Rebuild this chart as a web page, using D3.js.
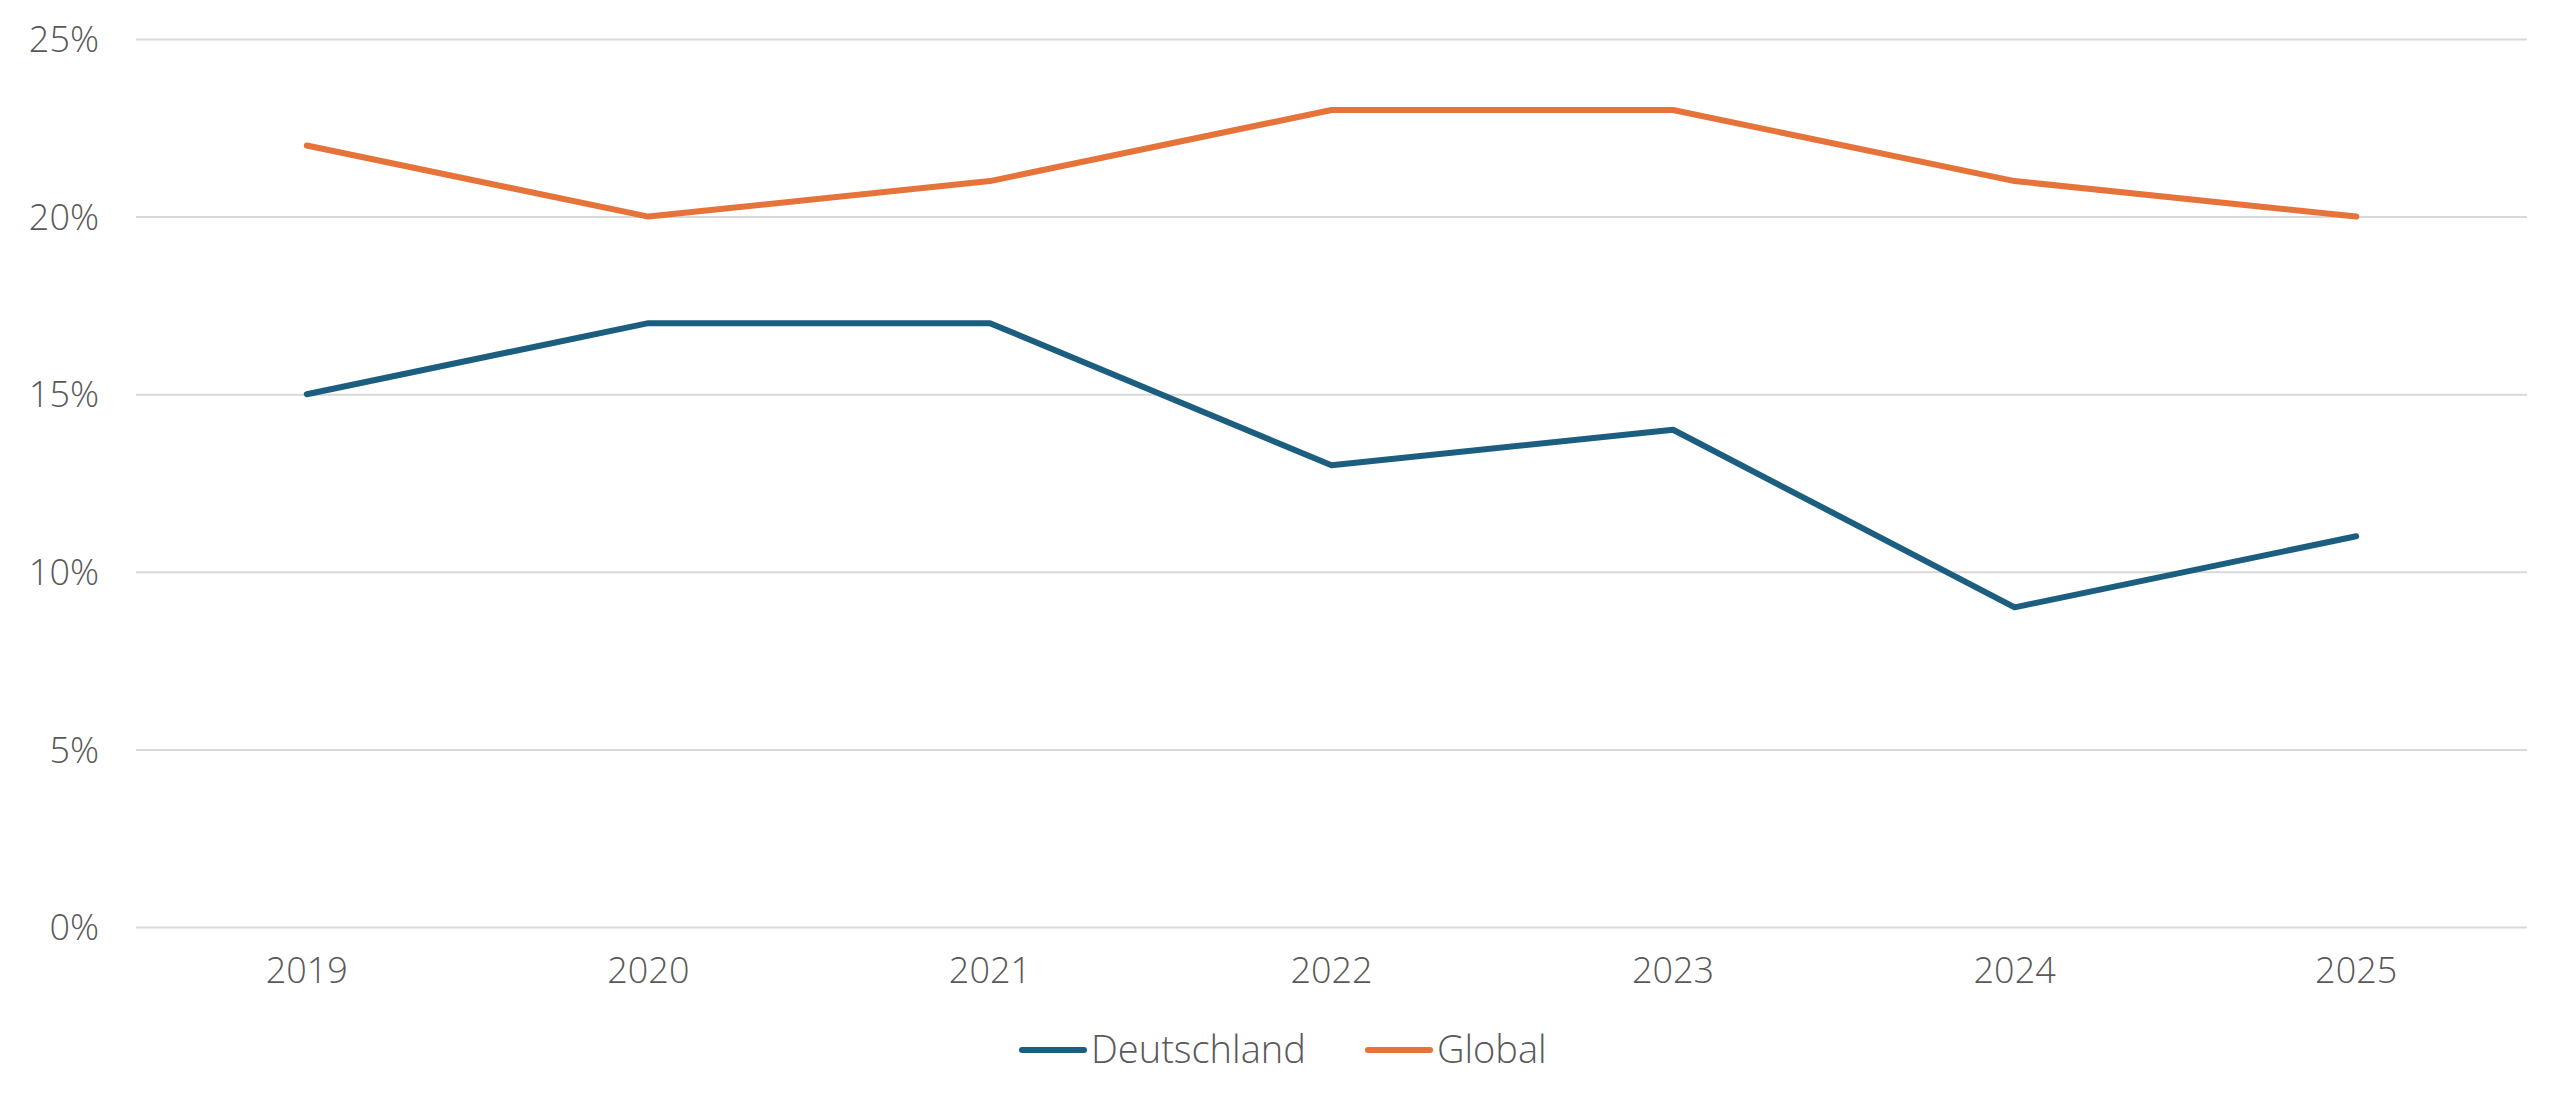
<!DOCTYPE html>
<html>
<head>
<meta charset="utf-8">
<script src="https://cdn.jsdelivr.net/npm/d3@7"></script>
<style>
  body { margin: 0; background: #fff; }
  text { font-family: "Open Sans", Lato, sans-serif; fill: #595959; font-weight: 300; }
</style>
</head>
<body>
<div id="chart"></div>
<script>
// data
var years = ["2019", "2020", "2021", "2022", "2023", "2024", "2025"];
var deutschland = [15, 17, 17, 13, 14, 9, 11];
var global = [22, 20, 21, 23, 23, 21, 20];
var y_ticks = [0, 5, 10, 15, 20, 25];
var series_names = ["Deutschland", "Global"];
var series_colors = ["#1b5e80", "#e5733a"];

var width = 2560,
    height = 1101,
    left = 136,
    right = 2527,
    top_y = 39,
    bottom_y = 927;

var svg = d3.select("#chart")
  .append("svg")
  .attr("width", width)
  .attr("height", height);

var x = d3.scaleBand()
  .domain(years)
  .range([left, right])
  .padding(0);

var y = d3.scaleLinear()
  .domain([0, 25])
  .range([bottom_y, top_y]);

// gridlines + y labels
var yAxis = svg.append("g")
  .attr("transform", "translate(" + left + ",0)")
  .call(d3.axisLeft(y).tickValues(y_ticks).tickSize(-(right - left)).tickPadding(37)
    .tickFormat(function(d) { return d + "%"; }));
yAxis.select(".domain").remove();
yAxis.selectAll("line").attr("stroke", "#d9d9d9").attr("stroke-width", 2);
yAxis.selectAll("text").style("font-size", "36px").attr("fill", "#595959").attr("dy", "0.35em");

// x labels
var xAxis = svg.append("g")
  .attr("transform", "translate(0," + bottom_y + ")")
  .call(d3.axisBottom(x).tickSize(0).tickPadding(30));
xAxis.select(".domain").remove();
xAxis.selectAll("text").style("font-size", "36px").attr("fill", "#595959");

var line = d3.line()
  .x(function(d, i) { return x(years[i]) + x.bandwidth() / 2; })
  .y(function(d) { return y(d); });

[deutschland, global].forEach(function(vals, i) {
  svg.append("path")
    .datum(vals)
    .attr("d", line)
    .attr("fill", "none")
    .attr("stroke", series_colors[i])
    .attr("stroke-width", 6)
    .attr("stroke-linecap", "round")
    .attr("stroke-linejoin", "round");
});

// legend
var legend_pos = [1022, 1368];
var legend = svg.append("g");
series_names.forEach(function(name, i) {
  legend.append("line")
    .attr("x1", legend_pos[i]).attr("x2", legend_pos[i] + 62)
    .attr("y1", 1050).attr("y2", 1050)
    .attr("stroke", series_colors[i])
    .attr("stroke-width", 6)
    .attr("stroke-linecap", "round");
  legend.append("text")
    .attr("x", legend_pos[i] + 69)
    .attr("y", 1050)
    .attr("dy", "0.35em")
    .style("font-size", "38px")
    .text(name);
});
</script>
</body>
</html>
